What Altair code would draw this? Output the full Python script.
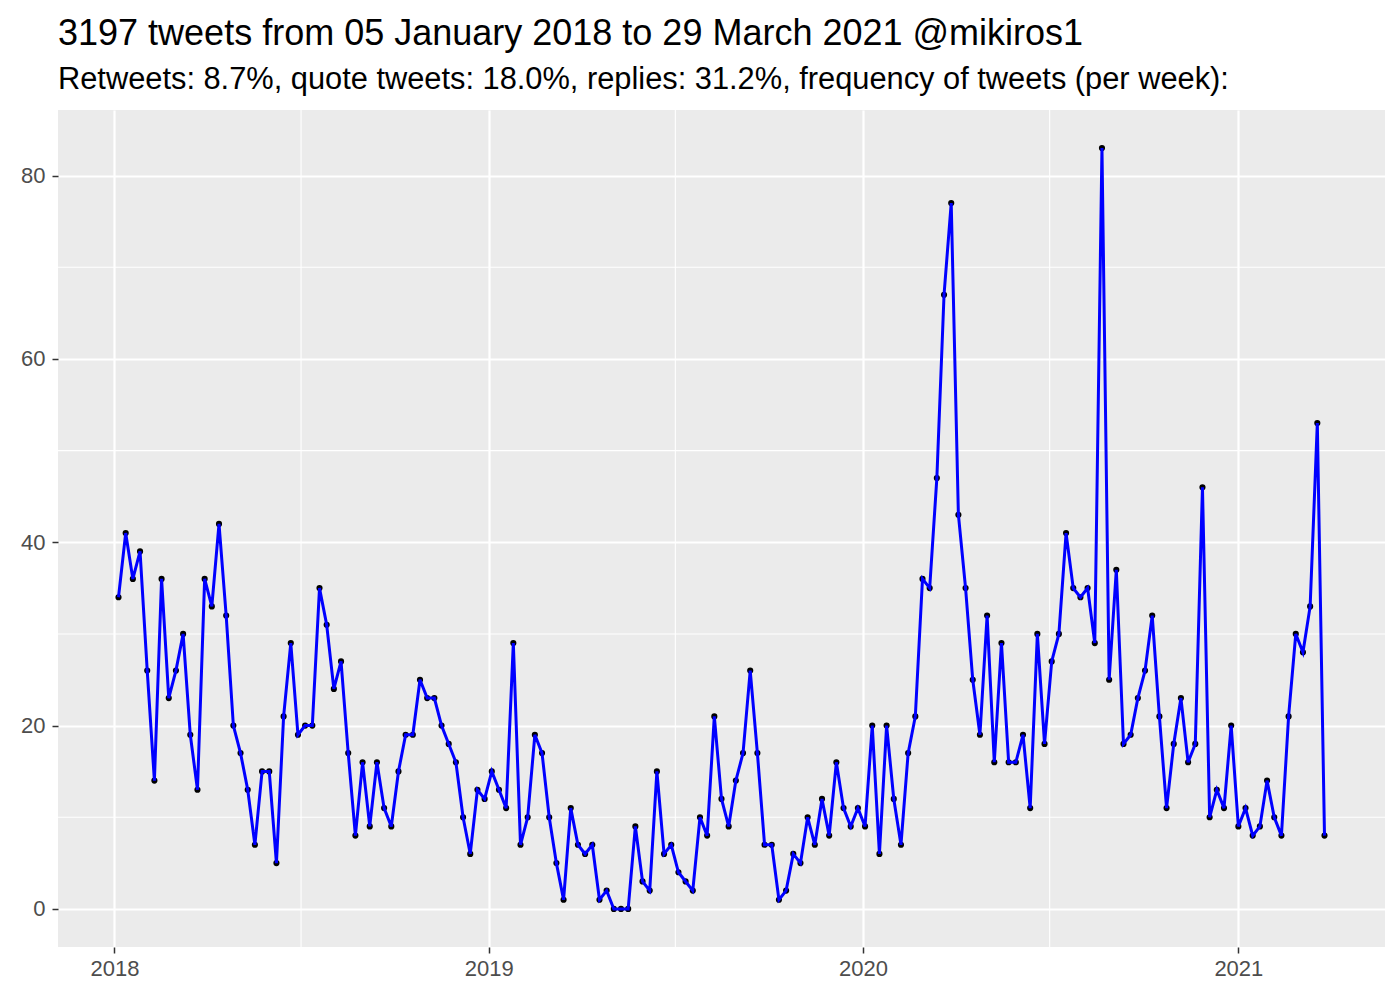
import altair as alt
import pandas as pd

start_date = "2018-01-05"
tweets_per_week = [
    34, 41, 36, 39, 26, 14, 36, 23, 26, 30,
    19, 13, 36, 33, 42, 32, 20, 17, 13, 7,
    15, 15, 5, 21, 29, 19, 20, 20, 35, 31,
    24, 27, 17, 8, 16, 9, 16, 11, 9, 15,
    19, 19, 25, 23, 23, 20, 18, 16, 10, 6,
    13, 12, 15, 13, 11, 29, 7, 10, 19, 17,
    10, 5, 1, 11, 7, 6, 7, 1, 2, 0,
    0, 0, 9, 3, 2, 15, 6, 7, 4, 3,
    2, 10, 8, 21, 12, 9, 14, 17, 26, 17,
    7, 7, 1, 2, 6, 5, 10, 7, 12, 8,
    16, 11, 9, 11, 9, 20, 6, 20, 12, 7,
    17, 21, 36, 35, 47, 67, 77, 43, 35, 25,
    19, 32, 16, 29, 16, 16, 19, 11, 30, 18,
    27, 30, 41, 35, 34, 35, 29, 83, 25, 37,
    18, 19, 23, 26, 32, 21, 11, 18, 23, 16,
    18, 46, 10, 13, 11, 20, 9, 11, 8, 9,
    14, 10, 8, 21, 30, 28, 33, 53, 8,
]
week_dates = pd.date_range(start_date, periods=len(tweets_per_week), freq="7D")

x_major = ["2018-01-01", "2019-01-01", "2020-01-01", "2021-01-01"]
x_minor = ["2018-07-02", "2019-07-02", "2020-07-01"]
y_major = [0, 20, 40, 60, 80]
y_minor = [10, 30, 50, 70]
x_domain = ["2017-11-07", "2021-05-24"]
y_domain = [-4.15, 87.15]

title_text = "3197 tweets from 05 January 2018 to 29 March 2021 @mikiros1"
subtitle_text = "Retweets: 8.7%, quote tweets: 18.0%, replies: 31.2%, frequency of tweets (per week):"

df = pd.DataFrame({"date": week_dates, "n": tweets_per_week})
df_xminor = pd.DataFrame({"date": pd.to_datetime(x_minor)})
df_yminor = pd.DataFrame({"v": y_minor})

FONT = "Liberation Sans"
iso = lambda ds: [pd.Timestamp(d).isoformat() for d in ds]

x_scale = alt.Scale(domain=iso(x_domain), nice=False)
y_scale = alt.Scale(domain=y_domain, nice=False, zero=False)

x_axis = alt.Axis(
    values=iso(x_major),
    format="%Y", title=None, grid=True, gridColor="white", gridWidth=2.2,
    domain=False, tickColor="#333333", tickSize=6, tickWidth=1.5,
    labelColor="#4D4D4D", labelFontSize=22, labelFont=FONT, labelPadding=5,
)
y_axis = alt.Axis(
    values=y_major, title=None, grid=True, gridColor="white", gridWidth=2.2,
    domain=False, tickColor="#333333", tickSize=6, tickWidth=1.5,
    labelColor="#4D4D4D", labelFontSize=22, labelFont=FONT, labelPadding=7,
)

base = alt.Chart(df)
points = base.mark_circle(color="black", size=38, opacity=1).encode(
    x=alt.X("date:T", scale=x_scale, axis=x_axis),
    y=alt.Y("n:Q", scale=y_scale, axis=y_axis),
)
line = base.mark_line(color="#0000FF", strokeWidth=3).encode(
    x=alt.X("date:T", scale=x_scale, axis=x_axis),
    y=alt.Y("n:Q", scale=y_scale, axis=y_axis),
)
minor_x = alt.Chart(df_xminor).mark_rule(color="white", strokeWidth=1.1).encode(
    x=alt.X("date:T", scale=x_scale, axis=x_axis),
)
minor_y = alt.Chart(df_yminor).mark_rule(color="white", strokeWidth=1.1).encode(
    y=alt.Y("v:Q", scale=y_scale, axis=y_axis),
)

chart = (
    alt.layer(minor_x, minor_y, points, line)
    .properties(
        width=1327,
        height=837,
        autosize=alt.AutoSizeParams(type="none"),
        padding={"left": 50, "top": 102, "right": 7, "bottom": 45},
        title=alt.Title(
            text=title_text,
            subtitle=subtitle_text,
            anchor="start",
            frame="group",
            font=FONT,
            fontSize=36,
            fontWeight="normal",
            color="black",
            subtitleFont=FONT,
            subtitleFontSize=30.8,
            subtitleColor="black",
            subtitlePadding=12,
            offset=14,
        ),
    )
    .configure(
        background="white",
        view=alt.ViewConfig(fill="#EBEBEB", strokeWidth=0),
    )
)

chart.save("out.html", embed_options={"renderer": "svg", "actions": False})
